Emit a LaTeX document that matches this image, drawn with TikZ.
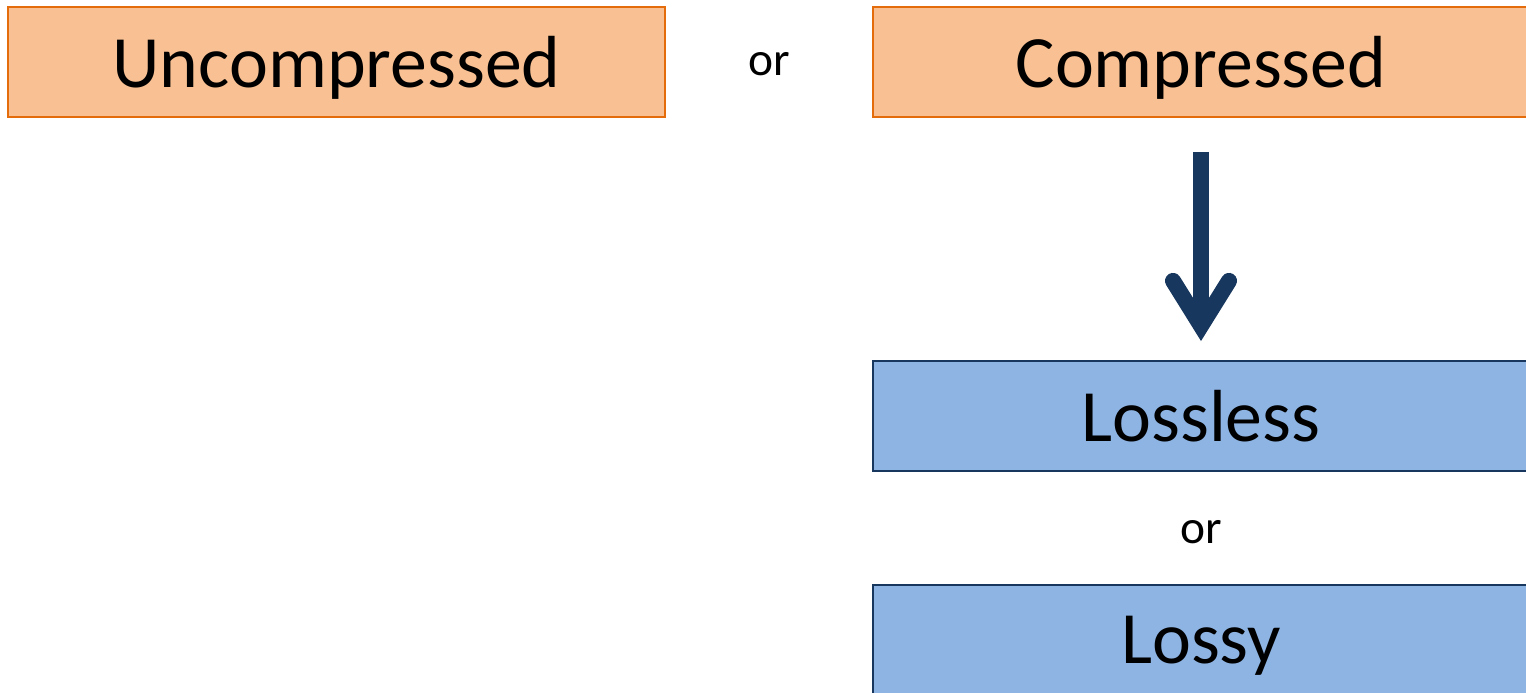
\documentclass[tikz,border=0pt]{standalone}
\usepackage{fontspec}
\setmainfont{Carlito}
\usetikzlibrary{arrows.meta}

\definecolor{peach}{HTML}{F9C193}
\definecolor{peachline}{HTML}{E46C0A}
\definecolor{skyfill}{HTML}{8EB4E3}
\definecolor{navy}{HTML}{17375E}

\begin{document}
\begin{tikzpicture}[x=0.02cm, y=-0.02cm,
		% Boxes of the two levels
		kindbox/.style={draw=peachline, fill=peach, line width=0.04cm,
			minimum width=13.14cm, minimum height=2.2cm, inner sep=0pt,
			text depth=0pt, font=\fontsize{42}{50}\selectfont},
		lossbox/.style={kindbox, draw=navy, fill=skyfill},
		ortext/.style={font=\fontsize{27}{32}\selectfont, inner sep=0pt},
		flow/.style={navy, line width=0.32cm,
			-{Straight Barb[length=0.9cm, width=1.12cm, line cap=round, line join=miter]}}]
	% Fix the page to the reference window
	\useasboundingbox (0,0) rectangle (1526,693);
	
	% Top row
	\node[kindbox] (uncomp) at (336.5,62) {Uncompressed};
	\node[ortext] (ortop) at (769,64) {or};
	\node[kindbox, minimum width=13.12cm] (comp) at (1201,62) {Compressed};
	
	% Kinds of compression
	\node[lossbox, minimum width=13.12cm] (lossless) at (1201,416) {Lossless};
	\node[ortext] (orlow) at (1201,532) {or};
	\node[lossbox, minimum width=13.12cm] (lossy) at (1201,640) {Lossy};
	
	% Arrow down to the kinds
	\draw[flow, shorten <=0.68cm, shorten >=0.38cm] (comp) -- (lossless);
	
\end{tikzpicture}
\end{document}
